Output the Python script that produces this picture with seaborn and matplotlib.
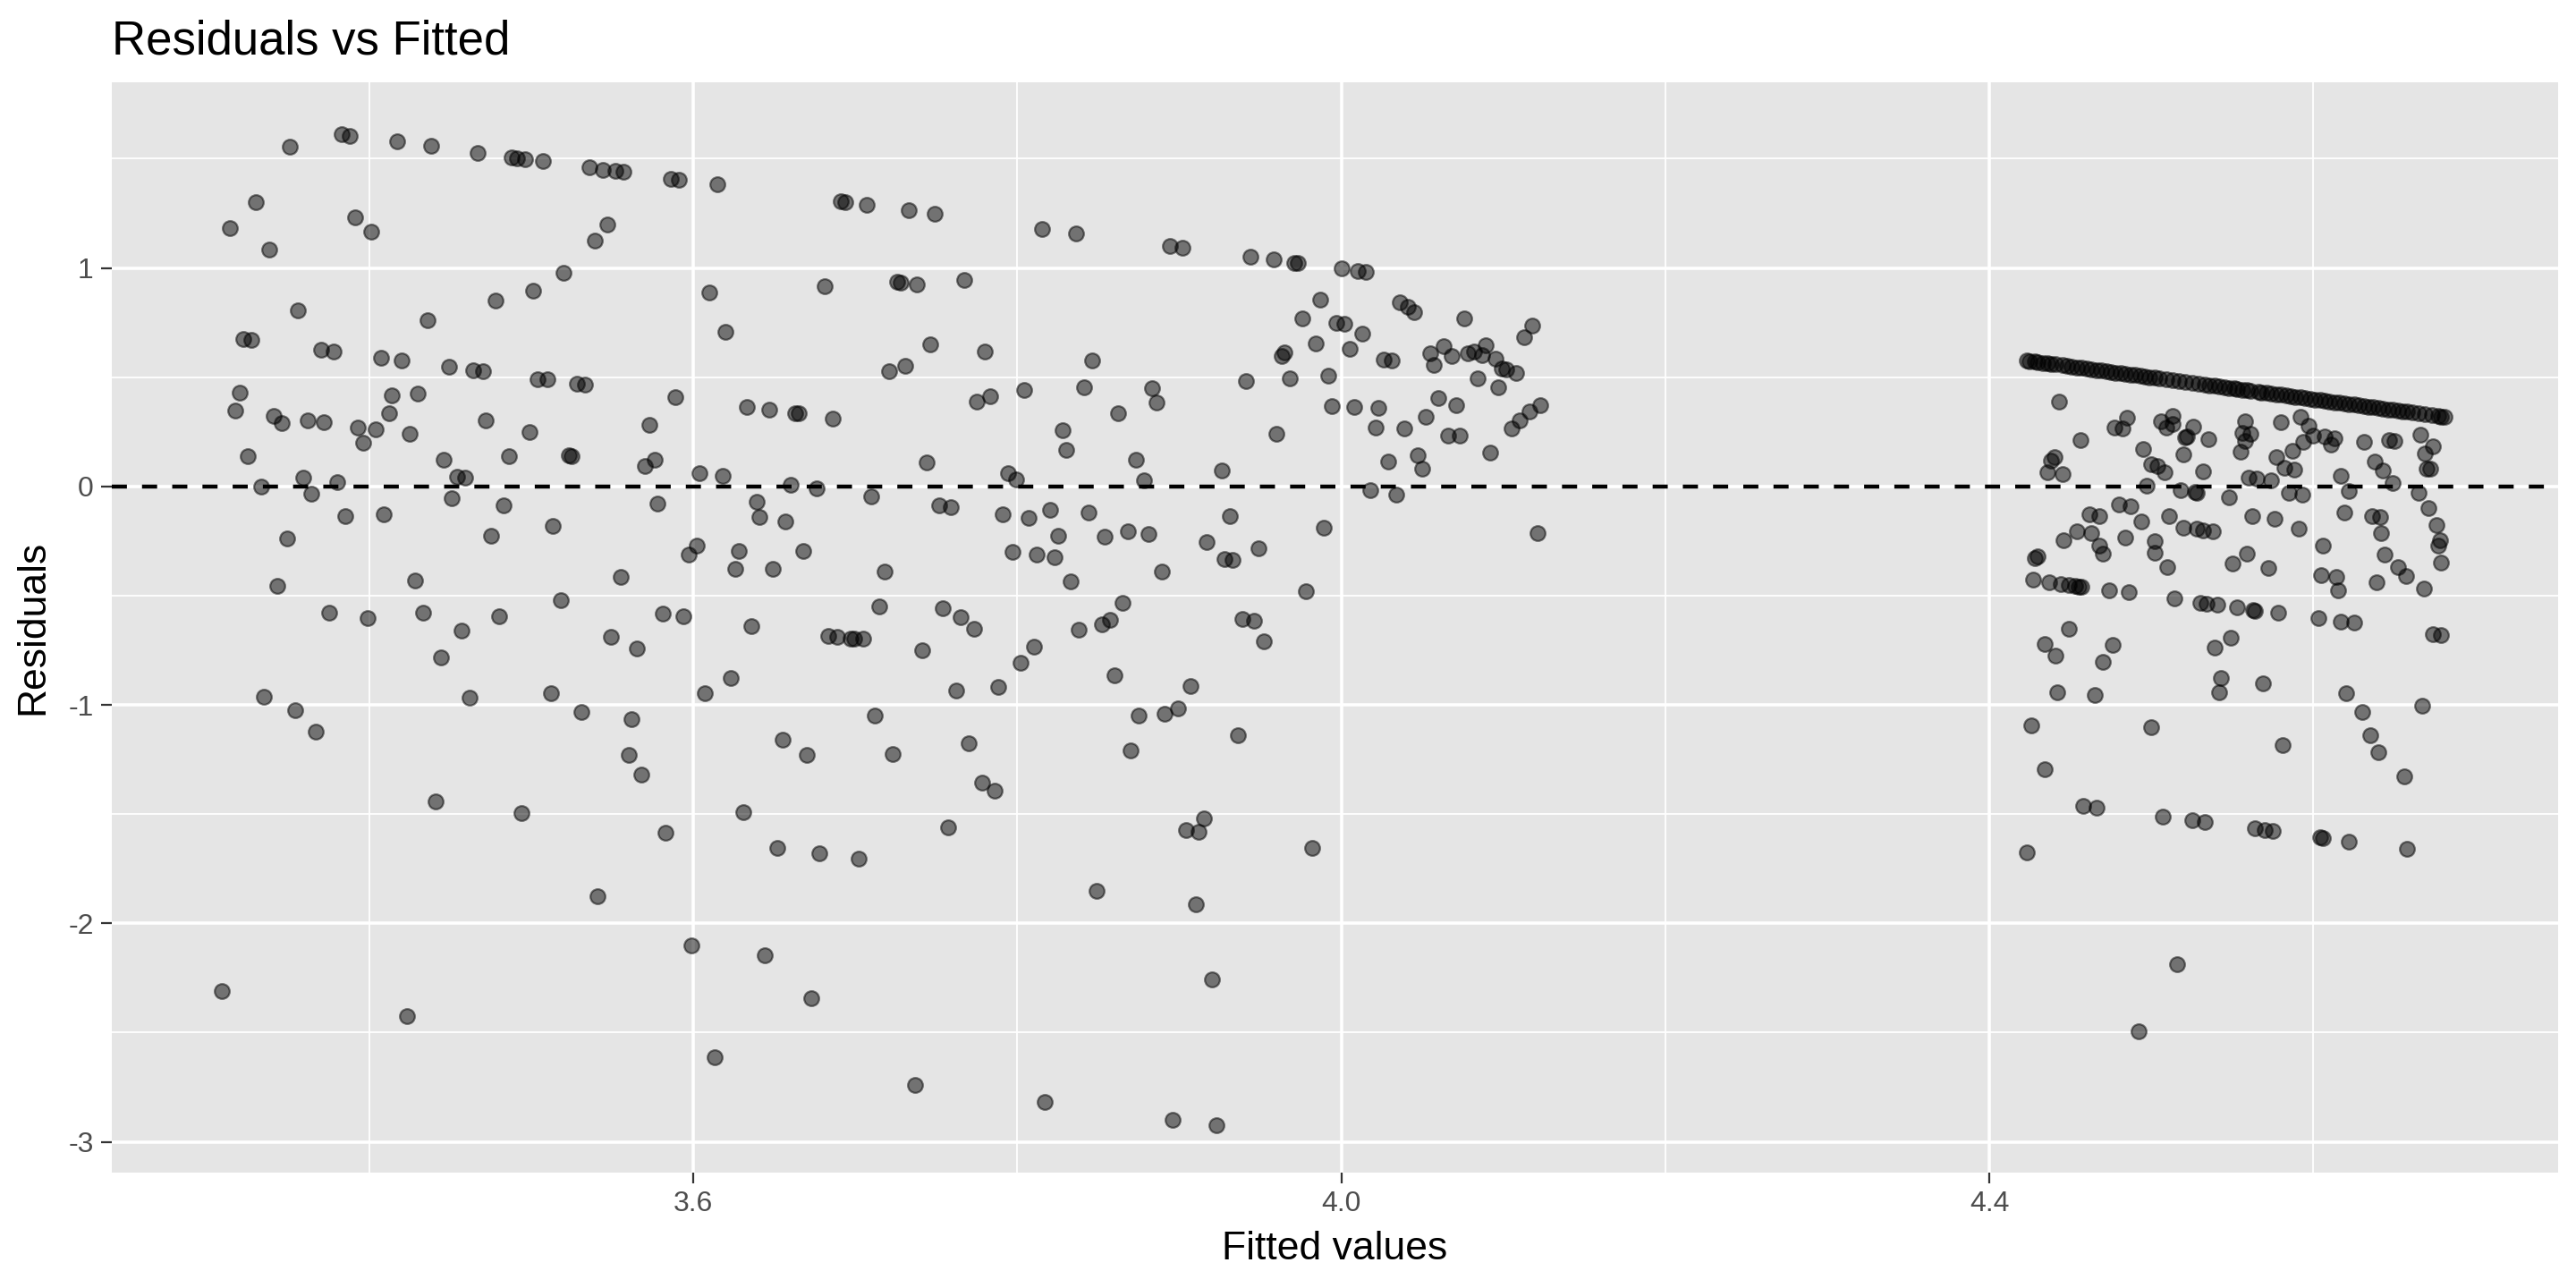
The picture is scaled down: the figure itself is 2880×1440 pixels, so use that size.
import matplotlib
matplotlib.use('Agg')  # Non-interactive backend
import matplotlib.pyplot as plt
from matplotlib.ticker import FixedLocator
import pandas as pd
import seaborn as sns

# --- Data ---

# Left cluster (fitted 3.3 - 4.13)
left_fitted = [
    3.351, 3.383, 3.388, 3.417, 3.438, 3.467, 3.488, 3.491, 3.496, 3.507,
    3.330, 3.314, 3.338, 3.391, 3.401, 3.356, 3.322, 3.327, 3.370, 3.378,
    3.407, 3.420, 3.436, 3.478, 3.501, 3.449, 3.464, 3.470, 3.504, 3.510,
    3.320, 3.317, 3.341, 3.346, 3.362, 3.372, 3.393, 3.404, 3.396, 3.414,
    3.430, 3.412, 3.425, 3.472, 3.499, 3.325, 3.359, 3.333, 3.380, 3.364,
    3.446, 3.454, 3.459, 3.486, 3.451, 3.483, 3.385, 3.409, 3.349, 3.475,
    3.513, 3.343, 3.428, 3.375, 3.399, 3.433, 3.457, 3.480, 3.518,
    3.536, 3.544, 3.552, 3.557, 3.586, 3.591, 3.615, 3.691, 3.694, 3.707,
    3.733, 3.547, 3.539, 3.520, 3.610, 3.620, 3.681, 3.726, 3.728, 3.738,
    3.721, 3.731, 3.528, 3.533, 3.589, 3.573, 3.523, 3.525, 3.570, 3.576,
    3.633, 3.647, 3.663, 3.665, 3.686, 3.604, 3.618, 3.660, 3.676, 3.710,
    3.578, 3.639, 3.641, 3.657, 3.602, 3.597, 3.628, 3.626, 3.649, 3.668,
    3.718, 3.555, 3.715, 3.581, 3.594, 3.636, 3.549, 3.565, 3.683, 3.689,
    3.697, 3.699, 3.705,
    3.749, 3.815, 3.836, 3.894, 3.902, 3.944, 3.958, 3.767, 3.746, 3.780,
    3.775, 3.783, 3.804, 3.841, 3.846, 3.883, 3.886, 3.862, 3.828, 3.830,
    3.873, 3.941, 3.960, 3.744, 3.794, 3.799, 3.878, 3.926, 3.752, 3.759,
    3.791, 3.807, 3.820, 3.844, 3.825, 3.854, 3.868, 3.881, 3.797, 3.812,
    3.823, 3.833, 3.889, 3.917, 3.931, 3.928, 3.933, 3.949, 3.754, 3.765,
    3.773, 3.838, 3.852, 3.857, 3.865, 3.939, 3.946, 3.952, 3.741, 3.810,
    3.971, 3.973, 4.000, 4.010, 4.015, 3.987, 3.976, 3.997, 4.002, 4.013,
    3.984, 4.005, 3.963, 3.965, 4.036, 4.041, 4.045, 4.076, 4.118, 4.113,
    4.026, 4.031, 4.055, 4.063, 4.068, 4.057, 4.078, 4.082, 4.087, 4.089,
    4.095, 4.099, 4.102, 4.108, 3.968, 3.992, 4.084, 4.097, 3.994, 4.008,
    4.023, 4.021, 4.039, 4.052, 4.060, 4.071, 4.066, 4.073, 4.105, 4.110,
    4.116, 4.123, 4.092, 4.029, 4.047, 4.050, 4.018, 4.034, 3.989, 4.121,
    3.978,
    3.335, 3.354, 3.367, 3.444, 3.462, 3.512, 3.441, 3.494, 3.309, 3.423,
    3.607, 3.623, 3.531, 3.562, 3.560, 3.568, 3.712, 3.655, 3.670, 3.723,
    3.631, 3.583, 3.652, 3.678, 3.702, 3.541, 3.599, 3.644, 3.673, 3.613,
    3.737,
    3.762, 3.788, 3.802, 3.860, 3.907, 3.875, 3.891, 3.899, 3.936, 3.770,
    3.870, 3.778, 3.786, 3.757, 3.915, 3.904, 3.912, 3.849, 3.910, 3.920,
    3.817, 3.896, 3.923, 3.982,
]
left_resid = [
    1.553, 1.613, 1.606, 1.578, 1.558, 1.528, 1.506, 1.503, 1.497, 1.489,
    1.302, 1.181, 1.086, 1.230, 1.166, 0.806, 0.673, 0.669, 0.627, 0.619,
    0.589, 0.577, 0.761, 0.852, 0.895, 0.548, 0.531, 0.527, 0.492, 0.489,
    0.428, 0.347, 0.323, 0.289, 0.303, 0.292, 0.270, 0.261, 0.200, 0.417,
    0.425, 0.336, 0.239, 0.303, 0.248, 0.139, 0.039, 0.000, 0.019, -0.033,
    0.122, 0.045, 0.039, 0.138, -0.055, -0.086, -0.138, -0.127, -0.239, -0.228,
    -0.183, -0.456, -0.430, -0.577, -0.602, -0.577, -0.659, -0.594, -0.519,
    1.459, 1.450, 1.444, 1.439, 1.409, 1.405, 1.381, 1.305, 1.302, 1.289,
    1.263, 1.198, 1.123, 0.977, 0.886, 0.709, 0.916, 0.938, 0.934, 0.925,
    0.527, 0.552, 0.469, 0.464, 0.409, 0.281, 0.141, 0.138, 0.094, 0.122,
    0.364, 0.352, 0.336, 0.334, 0.311, 0.059, 0.047, 0.008, -0.011, -0.045,
    -0.080, -0.069, -0.142, -0.159, -0.270, -0.313, -0.297, -0.378, -0.378, -0.295,
    -0.388, -0.414, -0.550, -0.583, -0.595, -0.638, -0.689, -0.742, -0.684, -0.689,
    -0.695, -0.698, -0.698,
    1.247, 1.180, 1.159, 1.100, 1.094, 1.052, 1.039, 0.944, 0.650, 0.616,
    0.388, 0.414, 0.442, 0.455, 0.578, 0.448, 0.383, 0.336, 0.259, 0.166,
    0.123, 0.483, 0.239, 0.111, 0.059, 0.031, 0.028, 0.072, -0.088, -0.095,
    -0.128, -0.144, -0.108, -0.119, -0.228, -0.231, -0.205, -0.217, -0.300, -0.314,
    -0.325, -0.436, -0.391, -0.253, -0.134, -0.331, -0.336, -0.284, -0.556, -0.600,
    -0.650, -0.658, -0.630, -0.609, -0.534, -0.608, -0.614, -0.710, -0.750, -0.734,
    1.023, 1.022, 0.997, 0.986, 0.981, 0.856, 0.770, 0.748, 0.744, 0.698,
    0.655, 0.628, 0.598, 0.614, 0.842, 0.820, 0.797, 0.769, 0.736, 0.684,
    0.581, 0.577, 0.609, 0.641, 0.595, 0.555, 0.611, 0.617, 0.602, 0.645,
    0.586, 0.539, 0.536, 0.520, 0.495, 0.505, 0.495, 0.455, 0.366, 0.364,
    0.358, 0.270, 0.266, 0.320, 0.403, 0.370, 0.231, 0.234, 0.266, 0.303,
    0.342, 0.373, 0.156, 0.113, 0.144, 0.081, -0.019, -0.036, -0.191, -0.214,
    -0.478,
    -0.964, -1.025, -1.122, -0.781, -0.966, -0.945, -1.444, -1.495, -2.309, -2.423,
    -0.945, -0.877, -1.034, -1.066, -1.230, -1.320, -1.050, -1.158, -1.230, -1.227,
    -1.491, -1.586, -1.656, -1.681, -1.706, -1.877, -2.102, -2.145, -2.341, -2.614,
    -2.738,
    -0.934, -0.919, -0.806, -0.864, -0.913, -1.047, -1.039, -1.016, -1.141, -1.175,
    -1.208, -1.355, -1.391, -1.561, -1.519, -1.575, -1.583, -1.853, -1.914, -2.256,
    -2.819, -2.898, -2.925, -1.653,
]

# Right cluster, scattered points (fitted 4.42 - 4.69)
right_fitted = [
    4.443, 4.456, 4.440, 4.438, 4.436, 4.445, 4.477, 4.482, 4.485, 4.506,
    4.509, 4.513, 4.513, 4.526, 4.522, 4.521, 4.535, 4.495, 4.520, 4.500,
    4.504, 4.508, 4.532, 4.497, 4.518, 4.527, 4.528, 4.548, 4.558, 4.556,
    4.561, 4.558, 4.555, 4.560, 4.565, 4.574, 4.580, 4.592, 4.597, 4.600,
    4.594, 4.587, 4.577, 4.582, 4.588, 4.585, 4.593, 4.607, 4.613, 4.611,
    4.617, 4.622, 4.631, 4.647, 4.650, 4.638, 4.643, 4.649, 4.666, 4.674,
    4.669, 4.670, 4.672, 4.665, 4.671, 4.676, 4.678, 4.677, 4.679, 4.619,
    4.636, 4.641, 4.642, 4.606, 4.644, 4.652, 4.657, 4.639, 4.668, 4.605,
    4.614, 4.615, 4.603, 4.617, 4.625, 4.674, 4.679, 4.620,
    4.480, 4.487, 4.462, 4.468, 4.494, 4.511, 4.520, 4.528, 4.532, 4.538,
    4.562, 4.576, 4.591, 4.454, 4.463, 4.446, 4.484, 4.502, 4.468, 4.470,
    4.502, 4.428, 4.430, 4.510, 4.550, 4.559, 4.572, 4.427, 4.437, 4.444,
    4.449, 4.453, 4.455, 4.457, 4.474, 4.486, 4.514, 4.530, 4.534, 4.541,
    4.553, 4.563, 4.564, 4.578, 4.449, 4.434, 4.441, 4.476, 4.470, 4.549,
    4.539, 4.543, 4.569, 4.442, 4.465, 4.542,
    4.630, 4.667, 4.426, 4.500, 4.635, 4.640, 4.581, 4.434, 4.656, 4.458,
    4.466, 4.507, 4.525, 4.533, 4.564, 4.570, 4.575, 4.604, 4.606, 4.622,
    4.658, 4.423, 4.516, 4.492,
]
right_resid = [
    0.390, 0.210, 0.134, 0.119, 0.064, 0.056, 0.271, 0.266, 0.314, 0.296,
    0.269, 0.323, 0.286, 0.274, 0.228, 0.225, 0.216, 0.171, 0.145, 0.101,
    0.094, 0.063, 0.067, 0.003, -0.018, -0.025, -0.030, -0.049, 0.300, 0.246,
    0.239, 0.207, 0.157, 0.041, 0.034, 0.027, 0.295, 0.317, 0.277, 0.232,
    0.205, 0.161, 0.136, 0.085, 0.078, -0.030, -0.038, 0.228, 0.222, 0.191,
    0.050, -0.023, 0.202, 0.211, 0.206, 0.112, 0.072, 0.016, 0.235, 0.184,
    0.150, 0.082, 0.079, -0.030, -0.100, -0.177, -0.246, -0.273, -0.348, -0.120,
    -0.136, -0.141, -0.214, -0.273, -0.311, -0.368, -0.409, -0.441, -0.468, -0.407,
    -0.413, -0.475, -0.604, -0.618, -0.625, -0.675, -0.682, -0.948,
    -0.082, -0.089, -0.127, -0.136, -0.161, -0.136, -0.188, -0.194, -0.201, -0.205,
    -0.134, -0.149, -0.192, -0.205, -0.214, -0.247, -0.235, -0.252, -0.270, -0.307,
    -0.303, -0.327, -0.319, -0.368, -0.351, -0.310, -0.374, -0.427, -0.437, -0.446,
    -0.450, -0.456, -0.458, -0.458, -0.475, -0.486, -0.514, -0.532, -0.536, -0.542,
    -0.554, -0.565, -0.569, -0.577, -0.651, -0.720, -0.775, -0.726, -0.805, -0.693,
    -0.739, -0.877, -0.903, -0.941, -0.955, -0.941,
    -1.033, -1.003, -1.095, -1.102, -1.139, -1.216, -1.184, -1.295, -1.326, -1.461,
    -1.471, -1.510, -1.527, -1.536, -1.566, -1.573, -1.578, -1.607, -1.608, -1.625,
    -1.660, -1.677, -2.186, -2.495,
]

# Right cluster, the dense band of points along the top
band_fitted = [
    4.423, 4.425, 4.428, 4.430, 4.433, 4.436, 4.438, 4.441, 4.445, 4.448,
    4.451, 4.454, 4.457, 4.460, 4.463, 4.466, 4.469, 4.472, 4.475, 4.478,
    4.481, 4.484, 4.487, 4.490, 4.493, 4.496, 4.499, 4.502, 4.505, 4.509,
    4.513, 4.517, 4.521, 4.525, 4.529, 4.533, 4.536, 4.539, 4.542, 4.545,
    4.548, 4.551, 4.553, 4.556, 4.559, 4.561,
    4.566, 4.568, 4.571, 4.574, 4.577, 4.580, 4.583, 4.586, 4.589, 4.592,
    4.595, 4.598, 4.601, 4.604, 4.607, 4.610, 4.613, 4.616, 4.619, 4.622,
    4.625, 4.628, 4.631, 4.634, 4.637, 4.640, 4.643, 4.646, 4.649, 4.652,
    4.655, 4.658, 4.661, 4.665, 4.669, 4.673, 4.677, 4.679, 4.681,
]
band_resid = [
    0.575, 0.574, 0.571, 0.569, 0.566, 0.563, 0.561, 0.558, 0.554, 0.551,
    0.548, 0.545, 0.542, 0.539, 0.536, 0.533, 0.530, 0.527, 0.524, 0.521,
    0.518, 0.515, 0.512, 0.509, 0.506, 0.503, 0.500, 0.497, 0.494, 0.490,
    0.486, 0.482, 0.478, 0.474, 0.470, 0.466, 0.463, 0.460, 0.457, 0.454,
    0.451, 0.448, 0.446, 0.443, 0.440, 0.438,
    0.433, 0.431, 0.428, 0.425, 0.422, 0.419, 0.416, 0.413, 0.410, 0.407,
    0.404, 0.401, 0.398, 0.395, 0.392, 0.389, 0.386, 0.383, 0.380, 0.377,
    0.374, 0.371, 0.368, 0.365, 0.362, 0.359, 0.356, 0.353, 0.350, 0.347,
    0.344, 0.341, 0.338, 0.334, 0.330, 0.326, 0.322, 0.320, 0.318,
]

x_ticks = [3.6, 4.0, 4.4]
x_tick_labels = ['3.6', '4.0', '4.4']
x_minor = [3.4, 3.8, 4.2, 4.6]
y_ticks = [-3, -2, -1, 0, 1]
y_tick_labels = ['-3', '-2', '-1', '0', '1']
y_minor = [-2.5, -1.5, -0.5, 0.5, 1.5]

df = pd.DataFrame({
    'fitted': left_fitted + right_fitted + band_fitted,
    'resid': left_resid + right_resid + band_resid,
})

# --- Plot (ggplot2 theme_gray look) ---
plt.rcParams['font.family'] = ['Liberation Sans', 'DejaVu Sans']

fig = plt.figure(figsize=(14.4, 7.2), dpi=200)
ax = fig.add_axes([0.0434, 0.0896, 0.9496, 0.8464])
ax.set_facecolor('#E5E5E5')
ax.set_axisbelow(True)

sns.scatterplot(data=df, x='fitted', y='resid', ax=ax, color='black',
                alpha=0.5, s=36, edgecolor='black', linewidth=0.8, zorder=3)

ax.axhline(0, color='black', linestyle=(0, (3.8, 3.8)), linewidth=1.6, zorder=4)

ax.set_xlim(3.241, 4.751)
ax.set_ylim(-3.141, 1.849)

ax.set_xticks(x_ticks)
ax.set_xticklabels(x_tick_labels)
ax.set_yticks(y_ticks)
ax.set_yticklabels(y_tick_labels)
ax.xaxis.set_minor_locator(FixedLocator(x_minor))
ax.yaxis.set_minor_locator(FixedLocator(y_minor))

ax.grid(which='major', color='white', linewidth=1.3)
ax.grid(which='minor', color='white', linewidth=0.65)
for s in ax.spines.values():
    s.set_visible(False)

ax.tick_params(which='major', length=4.3, width=0.8, color='#333333',
               labelsize=11.5, labelcolor='#4D4D4D', pad=3)
ax.tick_params(which='minor', length=0)

ax.set_xlabel('')
ax.set_ylabel('')
fig.text(0.5182, 0.0222, 'Fitted values', ha='center', va='baseline',
         fontsize=16, color='black')
fig.text(0.0128, 0.513, 'Residuals', ha='center', va='center',
         rotation=90, fontsize=16, color='black')
fig.text(0.0434, 0.9583, 'Residuals vs Fitted', ha='left', va='baseline',
         fontsize=19, color='black')

fig.savefig('out.png', dpi=200)
print("Saved out.png")
